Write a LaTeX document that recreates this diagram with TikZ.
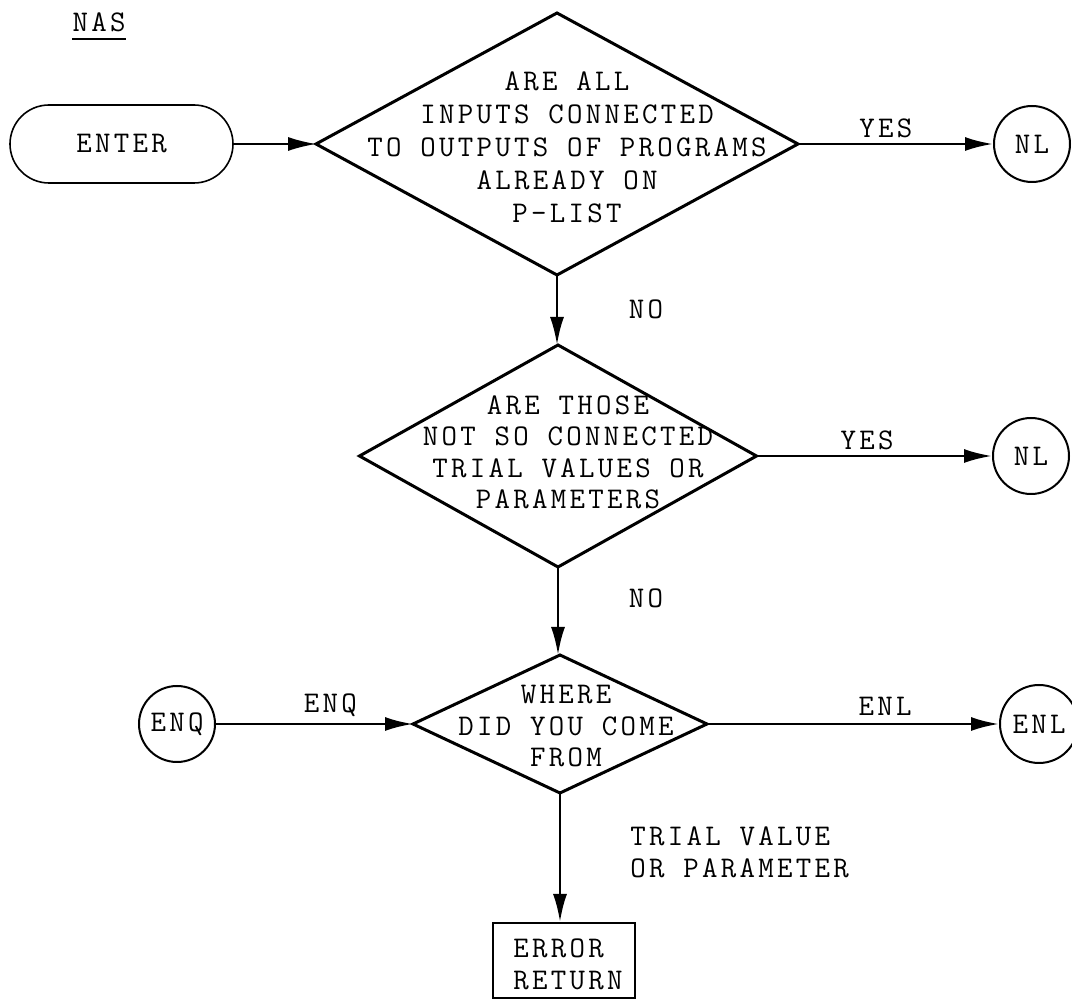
\documentclass[tikz,border=0pt]{standalone}
\usepackage{fontspec}
\setmonofont{Latin Modern Mono}[LetterSpace=11]
\usetikzlibrary{shapes.geometric,arrows.meta}
\begin{document}
\begin{tikzpicture}[x=0.5pt,y=-0.5pt,
  lbl/.style={font=\ttfamily\fontsize{15}{16}\selectfont, inner sep=0pt, align=center},
  decision/.style={diamond, draw, line width=1.5pt, inner sep=0pt, outer sep=0pt},
  term/.style={circle, draw, line width=1pt, minimum size=38pt, inner sep=0pt, font=\ttfamily\fontsize{15}{16}\selectfont},
  flow/.style={line width=1.3pt, -{Latex[length=14pt,width=7pt]}},
]
\useasboundingbox (0,0) rectangle (1072,999);
% title
\node[lbl] (nas) at (99,22) {NAS};
\draw[line width=1pt] ([yshift=-3.75pt]nas.south west) -- ([yshift=-3.75pt]nas.south east);
% nodes
\node[draw, line width=0.8pt, rounded corners=19.5pt, minimum width=111.5pt, minimum height=39pt, lbl] (enter) at (121.5,144) {ENTER};
\node[decision, minimum width=241pt, minimum height=131pt] (d1) at (557,144) {};
\node[lbl, font=\ttfamily\fontsize{15}{16.5}\selectfont] (t1) at (567,147) {ARE ALL\\INPUTS CONNECTED\\TO OUTPUTS OF PROGRAMS\\ALREADY ON\\P-LIST};
\node[term] (nl1) at (1032,144) {NL};
\node[decision, minimum width=198.5pt, minimum height=111pt] (d2) at (558,456) {};
\node[lbl, font=\ttfamily\fontsize{15}{15.75}\selectfont] (t2) at (568,452.5) {ARE THOSE\\NOT SO CONNECTED\\TRIAL VALUES OR\\PARAMETERS};
\node[term] (nl2) at (1031,456) {NL};
\node[decision, minimum width=147pt, minimum height=69pt] (d3) at (560,724) {};
\node[lbl, font=\ttfamily\fontsize{15}{15.75}\selectfont] (t3) at (566,726.5) {WHERE\\DID YOU COME\\FROM};
\node[term] (enq) at (177,724) {ENQ};
\node[term, minimum size=39pt] (enl) at (1039,724) {ENL};
\node[draw, line width=1pt, minimum width=71pt, minimum height=37.5pt] (err) at (564,960.5) {};
\node[lbl, align=left, anchor=west] (errt) at (513,964) {ERROR\\RETURN};
% connectors
\draw[flow, line width=0.8pt] (enter.east) -- (d1.west);
\draw[flow] (d1.east) -- node[lbl, above=2.5pt, pos=0.45] (yes1) {YES} (nl1.west);
\draw[flow] (d1.south) -- (d1.south |- d2.north);
\node[lbl] (no1) at (646,309) {NO};
\draw[flow] (d2.east) -- node[lbl, above=2.5pt, pos=0.47] (yes2) {YES} (nl2.west);
\draw[flow] (d2.south) -- (d2.south |- d3.north);
\node[lbl] (no2) at (646,598) {NO};
\draw[flow] (enq.east) -- node[lbl, above=3pt, pos=0.58] (enqt) {ENQ} (d3.west);
\draw[flow] (d3.east) -- node[lbl, above=3.75pt, pos=0.61] (enlt) {ENL} (enl.west);
\draw[flow] (d3.south) -- (d3.south |- err.north);
\node[lbl, align=left, anchor=west] (trial) at (630,852) {TRIAL VALUE\\OR PARAMETER};
\end{tikzpicture}
\end{document}
